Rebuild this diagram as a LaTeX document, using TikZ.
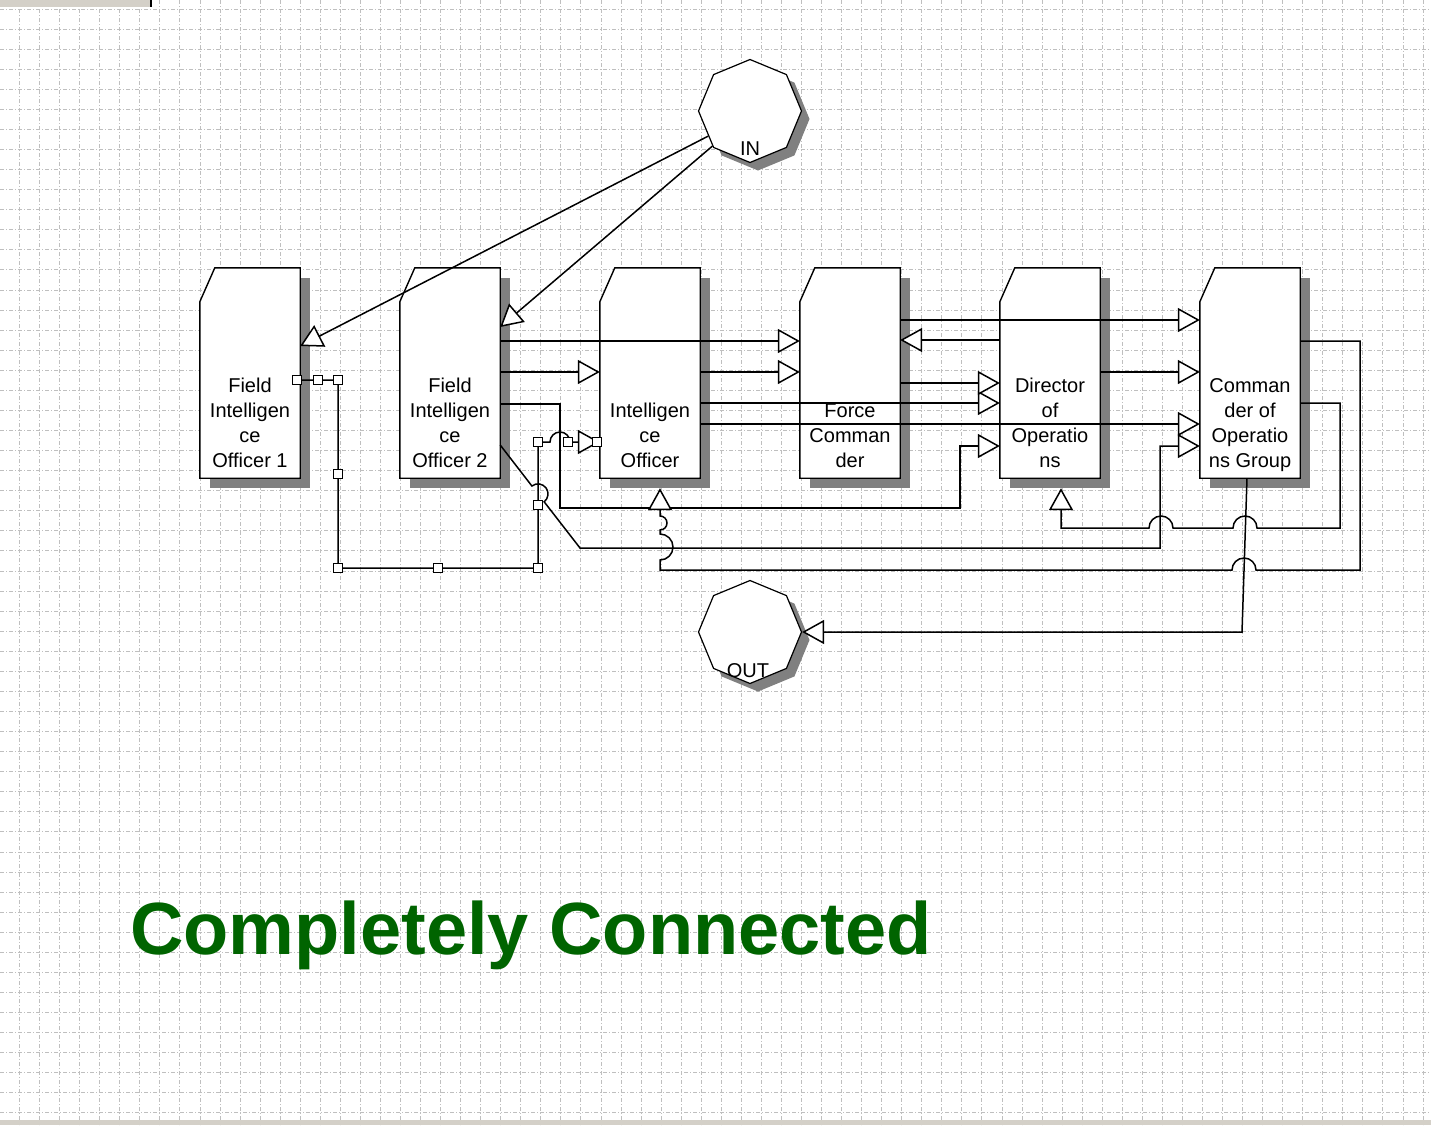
\documentclass[tikz,border=0pt]{standalone}
\usepackage{fontspec}
\setmainfont{Liberation Sans}
\usetikzlibrary{shapes.geometric,arrows.meta}

\definecolor{titlegreen}{RGB}{0,100,0}
\definecolor{shadowgray}{RGB}{128,128,128}
\definecolor{winbar}{RGB}{212,208,200}

\tikzset{
	unit/.style={rectangle, minimum width=100pt, minimum height=210pt, inner sep=0pt},
	unitline/.style={draw=black, fill=white, line width=1.4pt},
	unittext/.style={align=center, anchor=south, inner sep=0pt, font=\fontsize{20}{25}\selectfont},
	port/.style={regular polygon, regular polygon sides=8, shape border rotate=22.5, minimum size=103pt, inner sep=0pt, draw, fill=white, line width=1.2pt},
	porttext/.style={anchor=base, inner sep=0pt, font=\fontsize{20}{24}\selectfont},
	link/.style={draw=black, line width=1.5pt, -{Triangle[length=22pt, width=24pt, fill=white]}},
	grip/.style={rectangle, draw, fill=white, minimum size=9pt, inner sep=0pt, line width=1pt},
	gridline/.style={black!25, line width=0.9pt, dash pattern=on 4pt off 2pt on 1pt off 2pt}
}

\newcommand{\unitbox}[3]{%
	\fill[shadowgray] (#2+10,278) rectangle (#2+110,488);
	\node[unit] (#1) at (#2+50,373) {};
	\draw[unitline] (#1.south west) -- ([yshift=-34pt]#1.north west) -- ([xshift=15pt]#1.north west) -- (#1.north east) -- (#1.south east) -- cycle;
	\node[unittext] (#1-text) at (#2+50,475.5) {#3\strut};
}

\begin{document}
\begin{tikzpicture}[x=1pt, y=-1pt]
	\useasboundingbox (0,0) rectangle (1431,1125);
	\fill[white] (0,0) rectangle (1431,1125);
	\foreach \gx in {0,...,70} \draw[gridline] ({19.5+20.05*\gx},0) -- ++(0,1125);
	\foreach \gy in {0,...,55} \draw[gridline] (0,{9+20.07*\gy}) -- ++(1431,0);
	\fill[winbar] (0,0) rectangle (150,7);
	\draw[line width=1.5pt] (151,0) -- (151,7);
	\fill[winbar] (0,1120) rectangle (1431,1125);

	\unitbox{fio1}{200}{Field\\Intelligen\\ce\\Officer 1}
	\unitbox{fio2}{400}{Field\\Intelligen\\ce\\Officer 2}
	\unitbox{io}{600}{Intelligen\\ce\\Officer}
	\unitbox{fc}{800}{Force\\Comman\\der}
	\unitbox{do}{1000}{Director\\of\\Operatio\\ns}
	\unitbox{cog}{1200}{Comman\\der of\\Operatio\\ns Group}

	\node[port, draw=none, fill=shadowgray] (in-shade) at (758,119) {};
	\node[port] (in) at (750,111) {};
	\node[porttext] (in-text) at (750,155) {IN};
	\node[port, draw=none, fill=shadowgray] (out-shade) at (758,640) {};
	\node[port] (out) at (750,632) {};
	\node[porttext] (out-text) at (748,677) {OUT};

	\draw[link] (in.211) -- (fio1.east |- 0,346);
	\draw[link] (in.223) -- (fio2.east |- 0,327);

	\draw[link] (fio2.east |- 0,341) -- (fc.west |- 0,341);
	\draw[link] (fio2.east |- 0,372) -- (io.west |- 0,372);
	\draw[link] (fio2.east |- 0,404) -| (560,508) -| (960,446) -- (do.west |- 0,446);
	\draw[link] (fio2.east |- 0,445) -- (531.9,486) arc[start angle=127.8, end angle=-52.2, radius=10pt] -- (580,548) -- (1160,548) |- (cog.west |- 0,446);

	\draw[link] (io.east |- 0,372) -- (fc.west |- 0,372);
	\draw[link] (io.east |- 0,403) -- (do.west |- 0,403);
	\draw[link] (io.east |- 0,424) -- (cog.west |- 0,424);
	\draw[link] (fc.east |- 0,320) -- (cog.west |- 0,320);
	\draw[link] (fc.east |- 0,383) -- (do.west |- 0,383);
	\draw[link] (do.west |- 0,340) -- (fc.east |- 0,340);
	\draw[link] (do.east |- 0,372) -- (cog.west |- 0,372);

	\draw[link, shorten >=10pt] (cog.east |- 0,403) -- (1340,403) -- (1340,528) -- (1257,528) arc[start angle=0, end angle=180, radius=12pt] -- (1173,528) arc[start angle=0, end angle=180, radius=12pt] -- (1061,528) -- (do.south -| 1061,0);
	\draw[link, shorten >=10pt] (cog.east |- 0,341) -- (1360,341) -- (1360,570) -- (1256,570) arc[start angle=0, end angle=180, radius=12pt] -- (660,570) -- (660,560) arc[start angle=-90, end angle=90, radius=13pt] -- (660,530) arc[start angle=-90, end angle=90, radius=7pt] -- (io.south -| 660,0);
	\draw[link] (cog.south -| 1247,0) -- (1242,632) -- (out.east);

	% selected one
	\draw[link] (fio1.east |- 0,380) -- (338,380) -- (338,568) -- (538,568) -- (538,442) -- (550,442) arc[start angle=180, end angle=0, radius=10pt] -- (io.west |- 0,442);
	\foreach \p [count=\i] in {(297,380),(318,380),(338,380),(338,474),(338,568),(438,568),(538,568),(538,505),(538,442),(568,442),(597,442)}
		\node[grip] (grip\i) at \p {};

	\node[anchor=base west, inner sep=0pt, text=titlegreen, font=\fontsize{74}{80}\selectfont\bfseries] (title) at (130,954) {Completely Connected};
\end{tikzpicture}
\end{document}
